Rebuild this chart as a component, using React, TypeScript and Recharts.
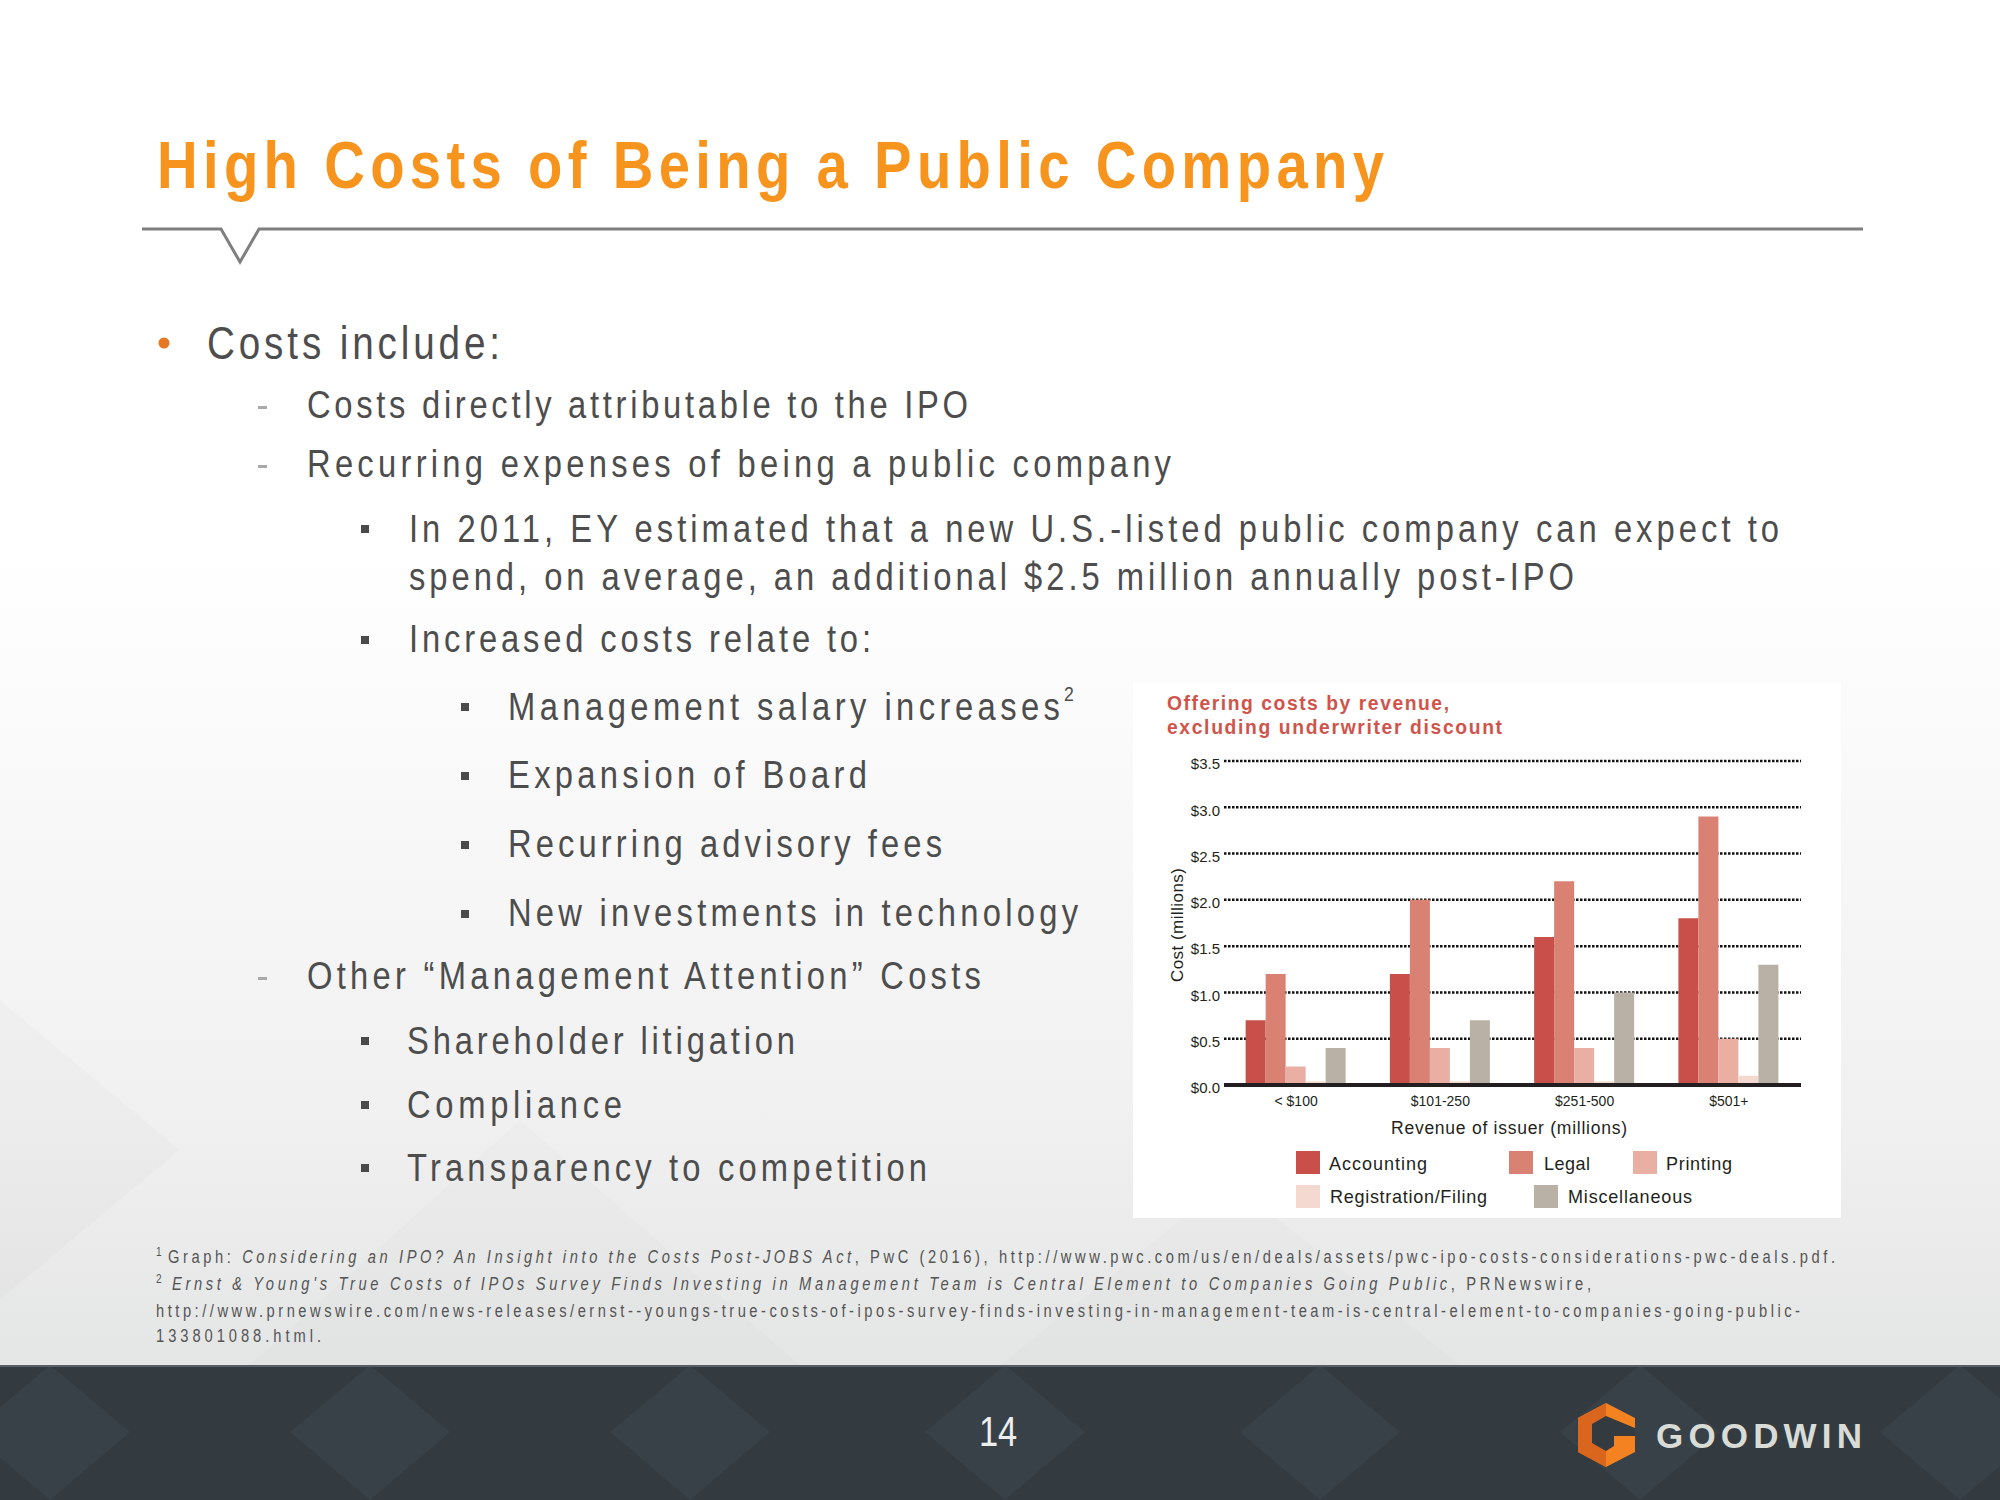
import React from 'react';
import { BarChart, Bar, XAxis, YAxis, CartesianGrid } from 'recharts';

// ---------- data ----------
const categories = ['< $100', '$101-250', '$251-500', '$501+'];
const accounting = [0.7, 1.2, 1.6, 1.8];
const legal = [1.2, 2.0, 2.2, 2.9];
const printing = [0.2, 0.4, 0.4, 0.5];
const registration = [0.04, 0.04, 0.04, 0.1];
const miscellaneous = [0.4, 0.7, 1.0, 1.3];
const yTicks = [0, 0.5, 1, 1.5, 2, 2.5, 3, 3.5];
const seriesNames = ['Accounting', 'Legal', 'Printing', 'Registration/Filing', 'Miscellaneous'];
const seriesColors = ['#c9504a', '#d98273', '#e9afa3', '#f3d9cf', '#b9b1a5'];
const seriesValues = [accounting, legal, printing, registration, miscellaneous];

const chartData = categories.map((c, i) => {
  const row: Record<string, string | number> = { category: c };
  seriesNames.forEach((n, s) => {
    row[n] = seriesValues[s][i];
  });
  return row;
});

// ---------- styling ----------
const baseFont = "'Liberation Sans', Arial, sans-serif";
const chartFont = "'Liberation Sans', Arial, sans-serif";
const textGray = '#4d4d4d';
const NARROW = 0.84;

type TProps = {
  x: number; y: number; w?: number; size: number; fill?: string; weight?: string | number;
  family?: string; anchor?: 'start' | 'middle' | 'end'; children: React.ReactNode; italic?: boolean; sx?: number;
};
// Narrow text: horizontally condensed glyphs with tracking fitted to a width
const T = ({ x, y, w, size, fill = textGray, weight = 'normal', family = baseFont, anchor = 'start', children, italic, sx = NARROW }: TProps) => (
  <text
    transform={`translate(${x},${y}) scale(${sx},1)`}
    x={0}
    y={0}
    fontSize={size}
    fill={fill}
    fontWeight={weight}
    fontFamily={family}
    fontStyle={italic ? 'italic' : 'normal'}
    textAnchor={anchor}
    textLength={w ? w / sx : undefined}
    lengthAdjust={w ? 'spacing' : undefined}
  >
    {children}
  </text>
);

const Sq = ({ x, y }: { x: number; y: number }) => <rect x={x} y={y} width={8} height={8} fill="#4a4a4a" />;
const Dash = ({ x, y }: { x: number; y: number }) => <rect x={x} y={y} width={9} height={3} fill="#a9a9a9" />;

// legend layout (positions only)
const legendPos = [
  { sx: 1296, sy: 1151, tx: 1329, ty: 1170, w: 98 },
  { sx: 1509, sy: 1151, tx: 1544, ty: 1170, w: 46 },
  { sx: 1633, sy: 1151, tx: 1666, ty: 1170, w: 66 },
  { sx: 1296, sy: 1185, tx: 1330, ty: 1203, w: 157 },
  { sx: 1534, sy: 1185, tx: 1568, ty: 1203, w: 124 },
];

const Background = () => {
  const diamonds = [50, 370, 690, 1005, 1320, 1640, 1960];
  return (
    <svg width={2000} height={1500} style={{ position: 'absolute', left: 0, top: 0 }}>
      <defs>
        <linearGradient id="bg" x1="0" y1="0" x2="0" y2="1">
          <stop offset="0" stopColor="#ffffff" />
          <stop offset="0.36" stopColor="#ffffff" />
          <stop offset="0.75" stopColor="#f0f0f0" />
          <stop offset="0.91" stopColor="#e4e5e5" />
        </linearGradient>
      </defs>
      <rect x={0} y={0} width={2000} height={1500} fill="url(#bg)" />
      {/* faint hexagon hints */}
      <polygon points="0,1000 180,1150 0,1300" fill="#000" opacity={0.015} />
      <polygon points="250,1365 520,1120 800,1365" fill="#000" opacity={0.012} />
      <polygon points="1000,1365 1230,1180 1460,1365" fill="#000" opacity={0.012} />

      {/* title */}
      <T x={157} y={188} w={1227} size={67} fill="#f7941e" weight="bold">High Costs of Being a Public Company</T>
      <polyline points="142,229 221,229 240,262 259,229 1863,229" fill="none" stroke="#7f7f7f" strokeWidth={3} strokeLinejoin="miter" />

      {/* bullets */}
      <circle cx={164} cy={343} r={5.5} fill="#e87722" />
      <T x={207} y={359} w={293} size={46}>Costs include:</T>

      <Dash x={258} y={406} />
      <T x={307} y={418} w={661} size={39}>Costs directly attributable to the IPO</T>
      <Dash x={258} y={465} />
      <T x={307} y={477} w={864} size={39}>Recurring expenses of being a public company</T>

      <Sq x={361} y={525} />
      <T x={409} y={542} w={1370} size={39}>In 2011, EY estimated that a new U.S.-listed public company can expect to</T>
      <T x={409} y={590} w={1165} size={39}>spend, on average, an additional $2.5 million annually post-IPO</T>
      <Sq x={361} y={636} />
      <T x={409} y={652} w={462} size={39}>Increased costs relate to:</T>

      <Sq x={461} y={703} />
      <T x={508} y={720} w={552} size={39}>Management salary increases</T>
      <T x={1064} y={701} w={11} size={21}>2</T>
      <Sq x={461} y={772} />
      <T x={508} y={788} w={359} size={39}>Expansion of Board</T>
      <Sq x={461} y={841} />
      <T x={508} y={857} w={434} size={39}>Recurring advisory fees</T>
      <Sq x={461} y={910} />
      <T x={508} y={926} w={570} size={39}>New investments in technology</T>

      <Dash x={258} y={977} />
      <T x={307} y={989} w={674} size={39}>Other “Management Attention” Costs</T>
      <Sq x={361} y={1037} />
      <T x={407} y={1054} w={388} size={39}>Shareholder litigation</T>
      <Sq x={361} y={1101} />
      <T x={407} y={1118} w={215} size={39}>Compliance</T>
      <Sq x={361} y={1164} />
      <T x={407} y={1181} w={520} size={39}>Transparency to competition</T>

      {/* chart box */}
      <rect x={1133} y={682} width={708} height={536} fill="#ffffff" />
      <T x={1167} y={710} w={282} size={21} fill="#d0544b" weight="bold" family={chartFont} sx={0.92}>Offering costs by revenue,</T>
      <T x={1167} y={734} w={335} size={21} fill="#d0544b" weight="bold" family={chartFont} sx={0.92}>excluding underwriter discount</T>
      <text
        x={1183}
        y={925}
        transform="rotate(-90 1183 925)"
        textAnchor="middle"
        fontSize={17}
        fontFamily={chartFont}
        fill="#231f20"
        textLength={114}
        lengthAdjust="spacing"
      >
        Cost (millions)
      </text>
      <T x={1509} y={1134} w={236} size={18.5} fill="#231f20" family={chartFont} anchor="middle" sx={0.95}>Revenue of issuer (millions)</T>
      {seriesNames.map((n, i) => (
        <g key={n}>
          <rect x={legendPos[i].sx} y={legendPos[i].sy} width={24} height={23} fill={seriesColors[i]} />
          <T x={legendPos[i].tx} y={legendPos[i].ty} w={legendPos[i].w} size={19} fill="#231f20" family={chartFont} sx={0.95}>{n}</T>
        </g>
      ))}

      {/* footnotes */}
      <T x={156} y={1256} size={12} fill="#555">1</T>
      <text
        transform={`translate(168,1263) scale(${NARROW},1)`}
        fontSize={17.5}
        fill="#555"
        fontFamily={baseFont}
        textLength={1667 / NARROW}
        lengthAdjust="spacing"
      >
        <tspan>Graph: </tspan>
        <tspan fontStyle="italic">Considering an IPO? An Insight into the Costs Post-JOBS Act</tspan>
        <tspan>, PwC (2016), http://www.pwc.com/us/en/deals/assets/pwc-ipo-costs-considerations-pwc-deals.pdf.</tspan>
      </text>
      <T x={156} y={1283} size={12} fill="#555">2</T>
      <text
        transform={`translate(172,1290) scale(${NARROW},1)`}
        fontSize={17.5}
        fill="#555"
        fontFamily={baseFont}
        textLength={1419 / NARROW}
        lengthAdjust="spacing"
      >
        <tspan fontStyle="italic">Ernst &amp; Young's True Costs of IPOs Survey Finds Investing in Management Team is Central Element to Companies Going Public</tspan>
        <tspan>, PRNewswire,</tspan>
      </text>
      <T x={156} y={1317} w={1644} size={17.5} fill="#555">http://www.prnewswire.com/news-releases/ernst--youngs-true-costs-of-ipos-survey-finds-investing-in-management-team-is-central-element-to-companies-going-public-</T>
      <T x={156} y={1342} w={165} size={17.5} fill="#555">133801088.html.</T>

      {/* footer */}
      <rect x={0} y={1365} width={2000} height={135} fill="#333b41" />
      {diamonds.map((cx) => (
        <polygon key={cx} points={`${cx},1365 ${cx + 80},1432 ${cx},1500 ${cx - 80},1432`} fill="#384147" />
      ))}
      <rect x={0} y={1365} width={2000} height={2} fill="#575f65" />
      <T x={998} y={1446} size={43} fill="#eeeeee" anchor="middle" sx={0.8}>14</T>
      {/* Goodwin G mark */}
      <polygon points="1606,1403 1635,1418 1635,1452 1606,1467 1578,1452 1578,1418" fill="#f58220" />
      <polygon points="1606,1403 1606,1467 1578,1452 1578,1418" fill="#d9661c" />
      <polygon points="1592,1424 1606,1416 1635,1428 1635,1436 1614,1436 1614,1446 1606,1451 1592,1443" fill="#333b41" />
      <T x={1656} y={1448} w={206} size={35} fill="#d9dcd6" weight="bold" sx={1}>GOODWIN</T>
    </svg>
  );
};

const OfferingChart = () => (
  <div style={{ position: 'absolute', left: 1133, top: 682 }}>
    <BarChart
      width={708}
      height={536}
      data={chartData}
      margin={{ top: 79, right: 40, bottom: 99, left: 0 }}
      barCategoryGap="15%"
      barGap={0}
    >
      <CartesianGrid vertical={false} stroke="#111111" strokeWidth={2.5} strokeDasharray="2.5 1.5" />
      <XAxis
        dataKey="category"
        height={34}
        tickLine={false}
        tickSize={0}
        tickMargin={11}
        axisLine={{ stroke: '#231f20', strokeWidth: 4 }}
        tick={{ fontSize: 14, fill: '#231f20', fontFamily: chartFont }}
        interval={0}
      />
      <YAxis
        width={91}
        domain={[0, 3.5]}
        ticks={yTicks}
        interval={0}
        tickFormatter={(v: number) => `$${v.toFixed(1)}`}
        axisLine={false}
        tickLine={false}
        tickSize={0}
        tickMargin={4}
        tick={{ fontSize: 15, fill: '#231f20', fontFamily: chartFont, dy: 3 }}
      />
      {seriesNames.map((n, i) => (
        <Bar key={n} dataKey={n} fill={seriesColors[i]} isAnimationActive={false} />
      ))}
    </BarChart>
  </div>
);

export default function App() {
  return (
    <div style={{ position: 'absolute', left: 0, top: 0, width: 2000, height: 1500, overflow: 'hidden' }}>
      <Background />
      <OfferingChart />
    </div>
  );
}
